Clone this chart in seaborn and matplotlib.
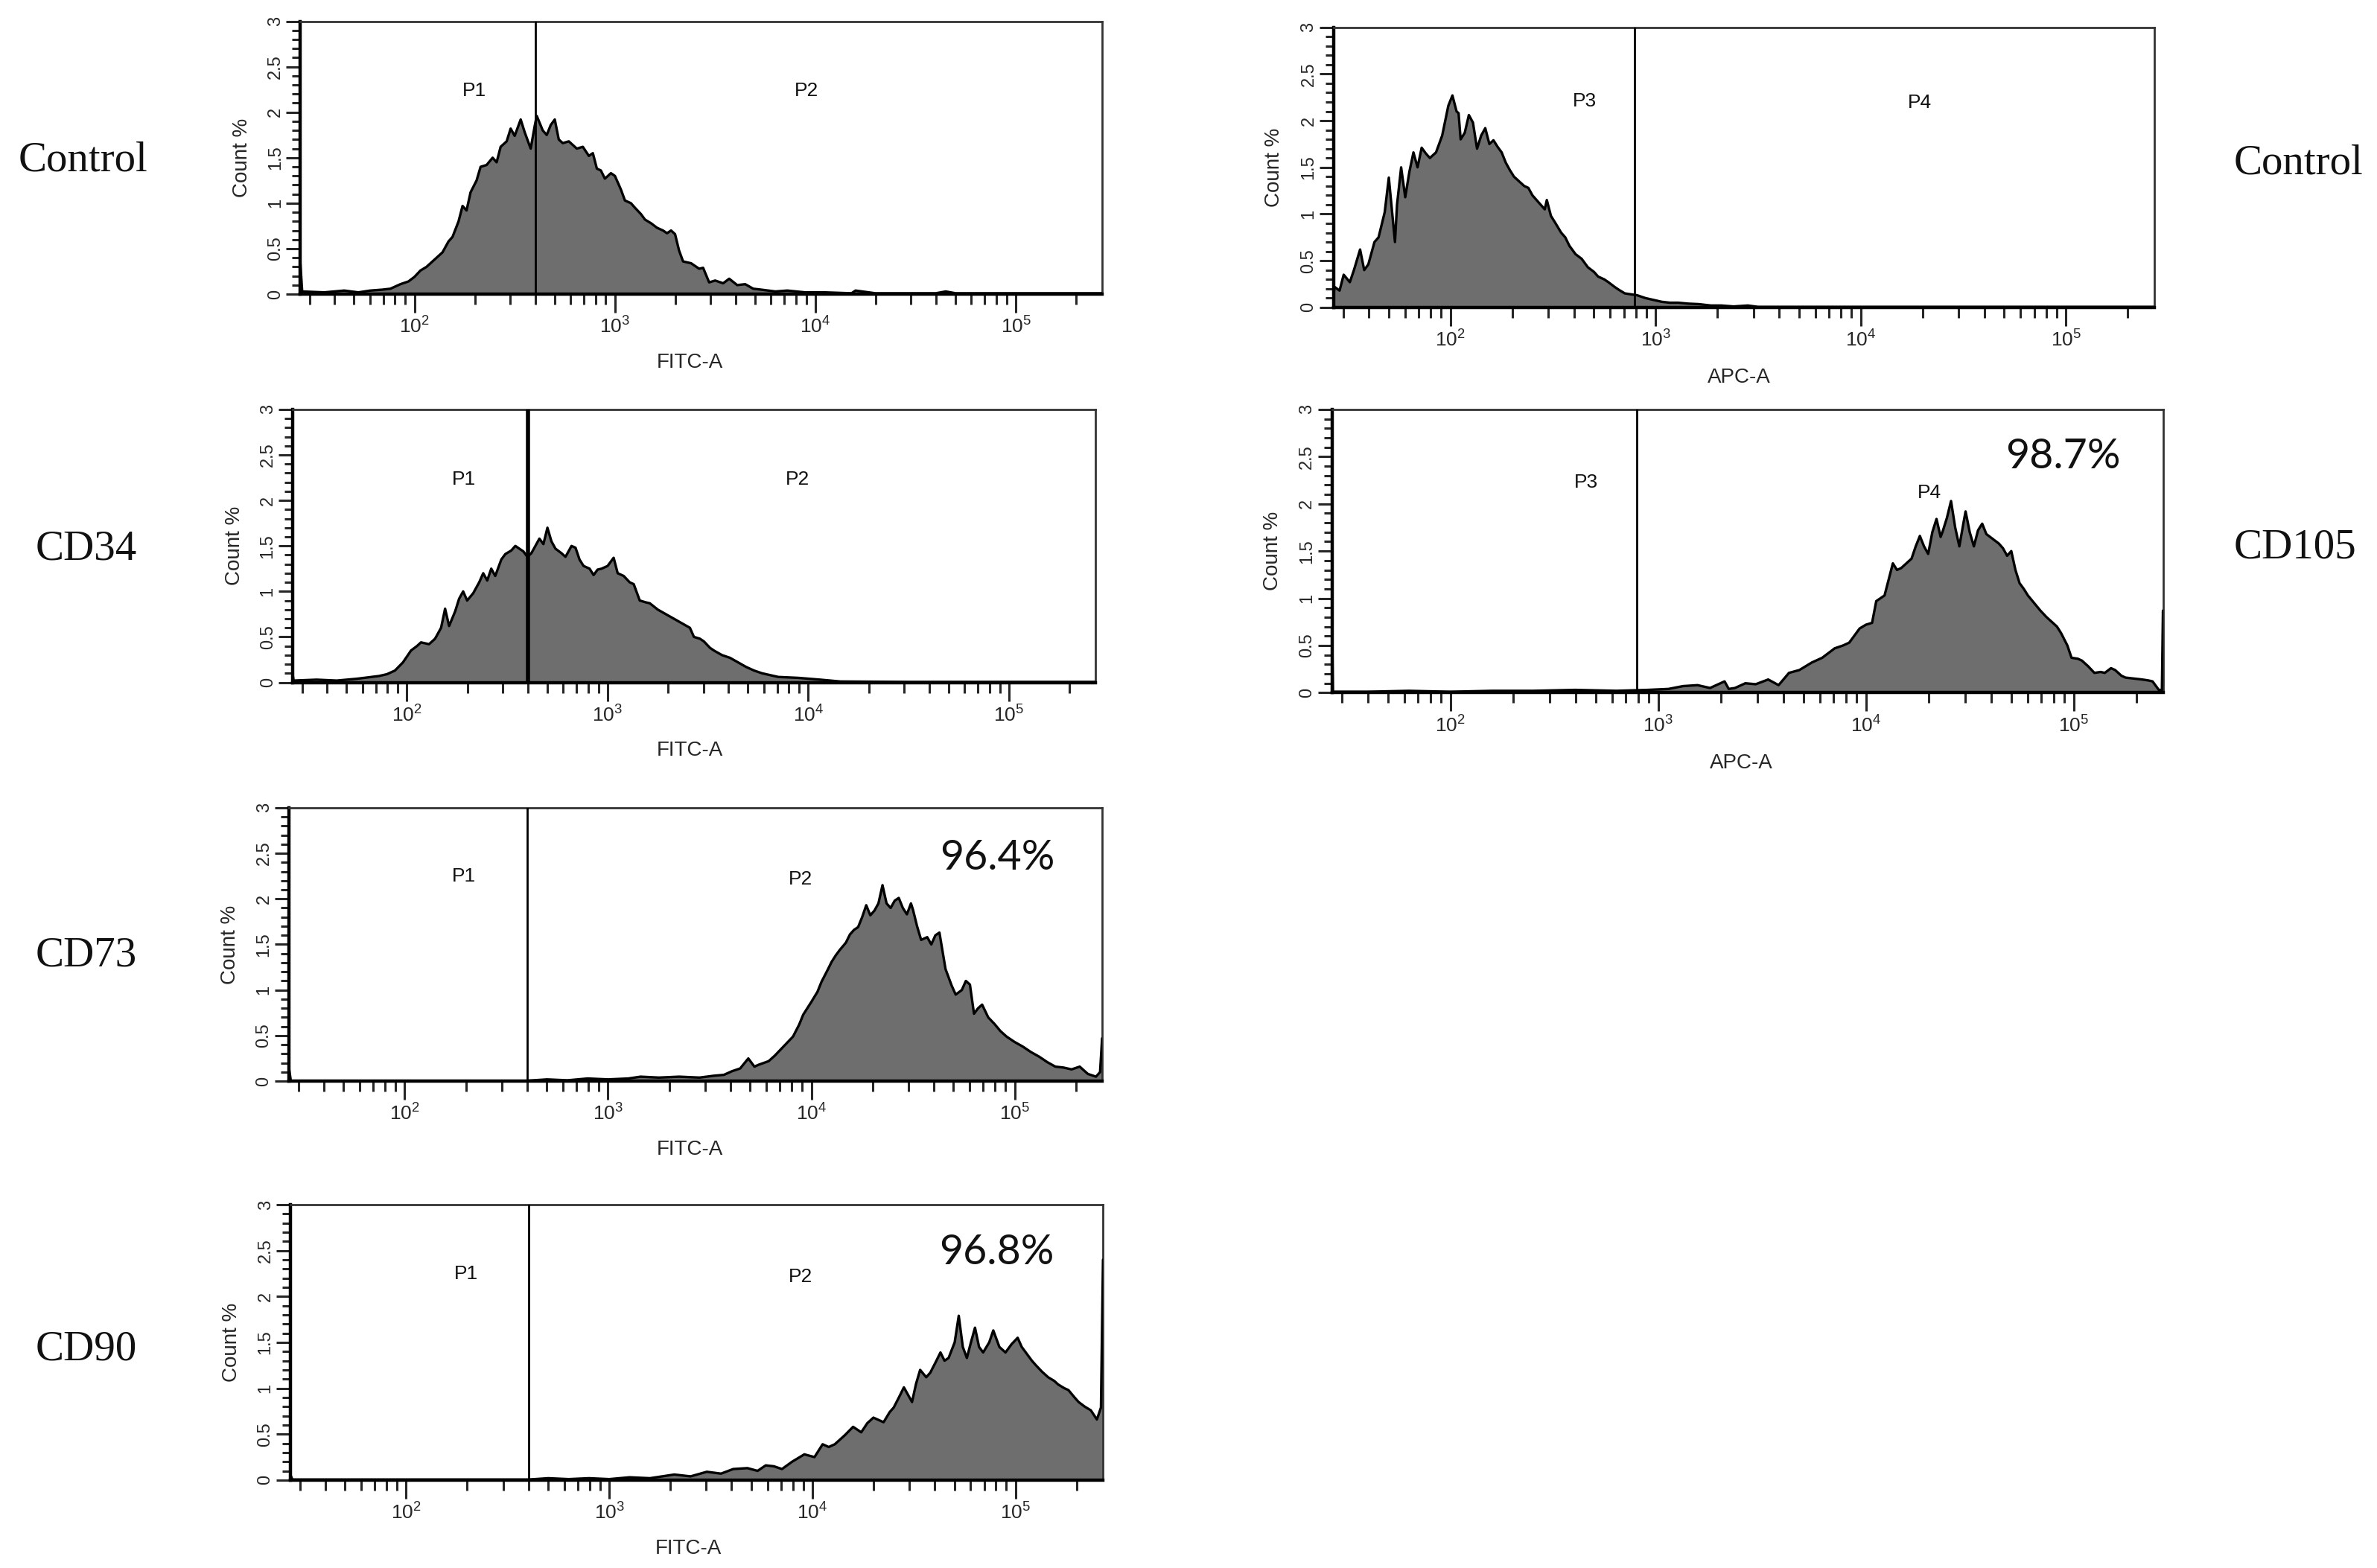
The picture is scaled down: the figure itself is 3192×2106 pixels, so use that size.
import numpy as np
import matplotlib
matplotlib.use("Agg")
import matplotlib.pyplot as plt
from matplotlib.ticker import LogLocator, NullFormatter, MultipleLocator, FuncFormatter
import seaborn as sns

# ---------------- data (log10 of fluorescence, Count %) ----------------
ctrl_fitc_logx = [1.43, 1.44, 1.55, 1.65, 1.72, 1.78, 1.84, 1.88, 1.93, 1.97, 2.00, 2.03, 2.06, 2.10,
                  2.14, 2.17, 2.19, 2.22, 2.24, 2.26, 2.28, 2.31, 2.33, 2.36, 2.39, 2.41, 2.43, 2.46,
                  2.48, 2.50, 2.53, 2.55, 2.58, 2.60, 2.61, 2.64, 2.66, 2.68, 2.70, 2.72, 2.74, 2.77,
                  2.81, 2.84, 2.87, 2.89, 2.91, 2.93, 2.95, 2.98, 3.00, 3.03, 3.05, 3.08, 3.10, 3.13,
                  3.15, 3.18, 3.21, 3.24, 3.26, 3.28, 3.30, 3.32, 3.34, 3.38, 3.42, 3.44, 3.47, 3.50,
                  3.54, 3.57, 3.61, 3.65, 3.69, 3.73, 3.80, 3.86, 3.95, 4.05, 4.18, 4.20, 4.30, 4.60,
                  4.65, 4.70, 5.00, 5.43]
ctrl_fitc_pct = [0.38, 0.03, 0.02, 0.04, 0.02, 0.04, 0.05, 0.06, 0.11, 0.14, 0.19, 0.26, 0.30, 0.38,
                 0.46, 0.58, 0.63, 0.80, 0.97, 0.92, 1.12, 1.25, 1.40, 1.42, 1.50, 1.45, 1.62, 1.68,
                 1.82, 1.74, 1.92, 1.78, 1.60, 1.85, 1.96, 1.80, 1.75, 1.86, 1.92, 1.70, 1.66, 1.68,
                 1.60, 1.62, 1.52, 1.55, 1.38, 1.36, 1.27, 1.33, 1.30, 1.15, 1.03, 1.00, 0.95, 0.88,
                 0.82, 0.78, 0.73, 0.70, 0.67, 0.70, 0.66, 0.48, 0.36, 0.34, 0.28, 0.29, 0.13, 0.15,
                 0.12, 0.17, 0.10, 0.11, 0.06, 0.05, 0.03, 0.04, 0.02, 0.02, 0.01, 0.04, 0.01, 0.01,
                 0.03, 0.01, 0.01, 0.01]

cd34_logx = [1.43, 1.435, 1.55, 1.65, 1.75, 1.86, 1.90, 1.94, 1.98, 2.02, 2.05, 2.07, 2.11, 2.14,
             2.17, 2.19, 2.21, 2.24, 2.26, 2.28, 2.30, 2.33, 2.36, 2.38, 2.40, 2.42, 2.44, 2.47,
             2.49, 2.52, 2.54, 2.56, 2.58, 2.60, 2.62, 2.64, 2.66, 2.68, 2.70, 2.72, 2.74, 2.77,
             2.79, 2.82, 2.84, 2.86, 2.88, 2.91, 2.93, 2.95, 2.97, 3.00, 3.03, 3.05, 3.08, 3.11,
             3.13, 3.16, 3.19, 3.21, 3.25, 3.29, 3.33, 3.37, 3.41, 3.43, 3.46, 3.48, 3.51, 3.53,
             3.57, 3.61, 3.65, 3.69, 3.73, 3.77, 3.81, 3.85, 3.95, 4.06, 4.16, 4.50, 5.43]
cd34_pct = [0.10, 0.02, 0.03, 0.02, 0.04, 0.07, 0.09, 0.13, 0.22, 0.35, 0.40, 0.44, 0.42, 0.48,
            0.60, 0.81, 0.62, 0.78, 0.92, 1.00, 0.90, 0.98, 1.10, 1.20, 1.12, 1.25, 1.17, 1.35,
            1.41, 1.45, 1.50, 1.47, 1.44, 1.38, 1.42, 1.50, 1.58, 1.52, 1.70, 1.55, 1.47, 1.42,
            1.38, 1.50, 1.48, 1.35, 1.28, 1.25, 1.18, 1.24, 1.25, 1.28, 1.37, 1.20, 1.17, 1.10,
            1.08, 0.90, 0.88, 0.87, 0.80, 0.75, 0.70, 0.65, 0.60, 0.50, 0.48, 0.45, 0.38, 0.35,
            0.30, 0.27, 0.22, 0.17, 0.13, 0.10, 0.08, 0.06, 0.05, 0.03, 0.01, 0.005, 0.005]

cd73_logx = [1.43, 1.44, 2.60, 2.70, 2.80, 2.90, 3.00, 3.10, 3.16, 3.25, 3.35, 3.45, 3.52, 3.57,
             3.61, 3.65, 3.69, 3.72, 3.74, 3.79, 3.82, 3.85, 3.88, 3.91, 3.94, 3.96, 4.00, 4.03,
             4.05, 4.08, 4.10, 4.12, 4.14, 4.17, 4.19, 4.21, 4.23, 4.25, 4.27, 4.29, 4.31, 4.33,
             4.35, 4.37, 4.39, 4.41, 4.43, 4.45, 4.47, 4.49, 4.50, 4.52, 4.54, 4.57, 4.59, 4.61,
             4.63, 4.66, 4.69, 4.71, 4.74, 4.76, 4.78, 4.80, 4.82, 4.84, 4.87, 4.90, 4.93, 4.96,
             5.00, 5.04, 5.08, 5.12, 5.16, 5.20, 5.24, 5.28, 5.32, 5.36, 5.40, 5.42, 5.43]
cd73_pct = [0.16, 0.005, 0.005, 0.02, 0.01, 0.03, 0.02, 0.03, 0.05, 0.04, 0.05, 0.04, 0.06, 0.07,
            0.11, 0.14, 0.25, 0.16, 0.18, 0.22, 0.28, 0.35, 0.42, 0.49, 0.62, 0.73, 0.87, 0.98,
            1.09, 1.22, 1.31, 1.38, 1.44, 1.52, 1.61, 1.66, 1.69, 1.80, 1.93, 1.82, 1.87, 1.95,
            2.15, 1.95, 1.90, 1.98, 2.01, 1.90, 1.83, 1.95, 1.88, 1.70, 1.55, 1.58, 1.50, 1.60,
            1.63, 1.23, 1.05, 0.95, 1.00, 1.10, 1.06, 0.74, 0.80, 0.84, 0.70, 0.63, 0.55, 0.49,
            0.43, 0.38, 0.32, 0.27, 0.21, 0.16, 0.15, 0.13, 0.16, 0.08, 0.05, 0.10, 0.47]

cd90_logx = [1.43, 1.44, 2.60, 2.70, 2.80, 2.90, 3.00, 3.10, 3.20, 3.32, 3.40, 3.48, 3.55, 3.61,
             3.68, 3.73, 3.77, 3.81, 3.85, 3.90, 3.93, 3.96, 4.01, 4.05, 4.08, 4.11, 4.14, 4.16,
             4.20, 4.24, 4.27, 4.30, 4.35, 4.38, 4.40, 4.43, 4.45, 4.49, 4.51, 4.53, 4.56, 4.58,
             4.61, 4.63, 4.65, 4.67, 4.70, 4.72, 4.74, 4.76, 4.78, 4.80, 4.82, 4.84, 4.87, 4.89,
             4.92, 4.95, 4.98, 5.01, 5.03, 5.05, 5.08, 5.10, 5.13, 5.16, 5.19, 5.21, 5.24, 5.26,
             5.29, 5.31, 5.34, 5.37, 5.40, 5.42, 5.43]
cd90_pct = [0.06, 0.005, 0.005, 0.02, 0.01, 0.02, 0.01, 0.03, 0.02, 0.06, 0.04, 0.09, 0.07, 0.12,
            0.13, 0.10, 0.16, 0.15, 0.12, 0.20, 0.24, 0.28, 0.25, 0.39, 0.36, 0.39, 0.45, 0.49,
            0.58, 0.52, 0.62, 0.68, 0.63, 0.74, 0.79, 0.92, 1.01, 0.85, 1.05, 1.20, 1.12, 1.17,
            1.30, 1.39, 1.30, 1.33, 1.50, 1.79, 1.45, 1.33, 1.50, 1.66, 1.45, 1.39, 1.50, 1.63,
            1.45, 1.39, 1.48, 1.55, 1.45, 1.39, 1.30, 1.25, 1.18, 1.12, 1.08, 1.04, 1.00, 0.98,
            0.90, 0.85, 0.80, 0.76, 0.66, 0.79, 2.40]

ctrl_apc_logx = [1.43, 1.432, 1.435, 1.46, 1.48, 1.51, 1.53, 1.56, 1.58, 1.60, 1.63, 1.65, 1.68, 1.70,
                 1.73, 1.74, 1.76, 1.78, 1.80, 1.82, 1.84, 1.86, 1.88, 1.90, 1.93, 1.96, 1.99, 2.01,
                 2.03, 2.04, 2.05, 2.07, 2.09, 2.11, 2.13, 2.15, 2.17, 2.19, 2.21, 2.23, 2.25, 2.27,
                 2.29, 2.31, 2.33, 2.36, 2.38, 2.40, 2.42, 2.44, 2.46, 2.47, 2.49, 2.51, 2.54, 2.56,
                 2.58, 2.61, 2.64, 2.67, 2.70, 2.72, 2.75, 2.77, 2.80, 2.82, 2.85, 2.88, 2.91, 2.95,
                 2.99, 3.03, 3.07, 3.11, 3.16, 3.21, 3.27, 3.32, 3.38, 3.45, 3.50, 5.43]
ctrl_apc_pct = [2.00, 0.15, 0.22, 0.18, 0.35, 0.27, 0.40, 0.62, 0.40, 0.46, 0.70, 0.75, 1.02, 1.39,
                0.70, 1.10, 1.50, 1.18, 1.45, 1.66, 1.50, 1.71, 1.65, 1.60, 1.66, 1.84, 2.16, 2.27,
                2.10, 2.08, 1.80, 1.87, 2.06, 1.98, 1.70, 1.84, 1.92, 1.75, 1.79, 1.72, 1.66, 1.55,
                1.47, 1.40, 1.36, 1.30, 1.28, 1.20, 1.15, 1.10, 1.05, 1.15, 0.98, 0.91, 0.80, 0.75,
                0.66, 0.57, 0.52, 0.43, 0.38, 0.33, 0.30, 0.27, 0.22, 0.19, 0.15, 0.14, 0.13, 0.10,
                0.08, 0.06, 0.05, 0.05, 0.04, 0.035, 0.02, 0.02, 0.01, 0.02, 0.005, 0.005]

cd105_logx = [1.43, 1.435, 1.60, 1.80, 2.00, 2.20, 2.40, 2.60, 2.80, 2.95, 3.05, 3.12, 3.19, 3.25,
              3.32, 3.34, 3.37, 3.42, 3.47, 3.53, 3.58, 3.63, 3.68, 3.71, 3.74, 3.79, 3.82, 3.85,
              3.89, 3.92, 3.95, 3.97, 4.00, 4.03, 4.05, 4.07, 4.09, 4.11, 4.13, 4.15, 4.17, 4.20,
              4.22, 4.24, 4.26, 4.28, 4.30, 4.32, 4.34, 4.36, 4.37, 4.39, 4.41, 4.43, 4.45, 4.47,
              4.48, 4.50, 4.52, 4.54, 4.56, 4.58, 4.61, 4.64, 4.66, 4.68, 4.70, 4.72, 4.74, 4.76,
              4.78, 4.81, 4.84, 4.87, 4.89, 4.92, 4.94, 4.97, 4.99, 5.02, 5.04, 5.07, 5.10, 5.13,
              5.15, 5.18, 5.20, 5.23, 5.25, 5.29, 5.33, 5.36, 5.38, 5.41, 5.425, 5.43]
cd105_pct = [0.88, 0.01, 0.01, 0.02, 0.01, 0.02, 0.02, 0.03, 0.02, 0.03, 0.04, 0.07, 0.08, 0.05,
             0.12, 0.04, 0.05, 0.10, 0.09, 0.14, 0.08, 0.21, 0.24, 0.28, 0.32, 0.37, 0.42, 0.47,
             0.50, 0.53, 0.62, 0.68, 0.72, 0.74, 0.97, 1.00, 1.03, 1.20, 1.37, 1.30, 1.32, 1.38,
             1.42, 1.55, 1.66, 1.55, 1.47, 1.70, 1.84, 1.65, 1.71, 1.85, 2.03, 1.75, 1.55, 1.80,
             1.92, 1.70, 1.55, 1.72, 1.79, 1.68, 1.63, 1.58, 1.53, 1.45, 1.50, 1.30, 1.16, 1.10,
             1.03, 0.95, 0.87, 0.80, 0.76, 0.70, 0.63, 0.50, 0.37, 0.36, 0.34, 0.28, 0.21, 0.22,
             0.21, 0.26, 0.24, 0.18, 0.16, 0.15, 0.14, 0.13, 0.12, 0.03, 0.03, 0.87]

fitc_gate = 400
apc_gate = 790
y_ticks = [0, 0.5, 1, 1.5, 2, 2.5, 3]

# ---------------- style ----------------
sns.set_style("ticks")
plt.rcParams['font.family'] = ['Liberation Sans', 'DejaVu Sans']
plt.rcParams['mathtext.default'] = 'regular'

W, H = 1568.0, 1034.0
fig = plt.figure(figsize=(15.96, 10.53), dpi=200)


def box(l, r, t, b):
    return [l / W, 1 - b / H, (r - l) / W, (b - t) / H]


panels = [
    dict(rect=box(198, 727, 14, 194), logx=ctrl_fitc_logx, pct=ctrl_fitc_pct, gate=fitc_gate,
         gl=("P1", 0.217, 0.744), gr=("P2", 0.631, 0.744), xlabel="FITC-A", xl=0.486, pct_txt=None, gw=1.0),
    dict(rect=box(193, 722.5, 270, 450), logx=cd34_logx, pct=cd34_pct, gate=fitc_gate,
         gl=("P1", 0.213, 0.744), gr=("P2", 0.629, 0.744), xlabel="FITC-A", xl=0.495, pct_txt=None, gw=2.0),
    dict(rect=box(190.5, 727, 532.6, 713), logx=cd73_logx, pct=cd73_pct, gate=fitc_gate,
         gl=("P1", 0.215, 0.748), gr=("P2", 0.629, 0.737), xlabel="FITC-A", xl=0.493,
         pct_txt=("96.4%", 0.871, 0.815), gw=1.0),
    dict(rect=box(191.5, 727.6, 794.4, 976), logx=cd90_logx, pct=cd90_pct, gate=fitc_gate,
         gl=("P1", 0.216, 0.749), gr=("P2", 0.628, 0.737), xlabel="FITC-A", xl=0.49,
         pct_txt=("96.8%", 0.869, 0.826), gw=1.0),
    dict(rect=box(879.6, 1421, 18, 202.7), logx=ctrl_apc_logx, pct=ctrl_apc_pct, gate=apc_gate,
         gl=("P3", 0.306, 0.735), gr=("P4", 0.714, 0.73), xlabel="APC-A", xl=0.494, pct_txt=None, gw=1.0),
    dict(rect=box(878.6, 1426.8, 270, 456.8), logx=cd105_logx, pct=cd105_pct, gate=apc_gate,
         gl=("P3", 0.306, 0.743), gr=("P4", 0.719, 0.705), xlabel="APC-A", xl=0.493,
         pct_txt=("98.7%", 0.88, 0.834), gw=1.0),
]

for p in panels:
    ax = fig.add_axes(p['rect'])
    x = 10 ** np.array(p['logx'])
    y = np.array(p['pct'])
    ax.fill_between(x, y, 0, color='#6e6e6e', lw=0, zorder=2)
    sns.lineplot(x=x, y=y, ax=ax, color='black', lw=1.2, sort=False, estimator=None, zorder=3)
    ax.set_xscale('log')
    ax.set_xlim(10 ** 1.43, 10 ** 5.43)
    ax.set_ylim(0, 3)
    ax.axvline(p['gate'], color='black', lw=p['gw'], zorder=4)

    ax.xaxis.set_major_locator(LogLocator(base=10))
    ax.xaxis.set_minor_locator(LogLocator(base=10, subs=np.arange(2, 10)))
    ax.xaxis.set_minor_formatter(NullFormatter())
    ax.set_yticks(y_ticks)
    ax.yaxis.set_minor_locator(MultipleLocator(0.1))
    ax.yaxis.set_major_formatter(FuncFormatter(lambda v, pos: f"{v:g}"))

    ax.tick_params(axis='x', which='major', length=9, width=1.1, direction='out', labelsize=9.5, pad=2)
    ax.tick_params(axis='x', which='minor', length=5, width=1.1, direction='out')
    ax.tick_params(axis='y', which='major', length=7, width=1.1, direction='out', labelsize=8.5,
                   pad=1, labelrotation=90)
    ax.tick_params(axis='y', which='minor', length=4, width=1.1, direction='out')
    for lab in ax.get_yticklabels():
        lab.set_verticalalignment('center')

    for s in ['left', 'bottom']:
        ax.spines[s].set_linewidth(1.6)
        ax.spines[s].set_color('black')
    for s in ['top', 'right']:
        ax.spines[s].set_linewidth(1.0)
        ax.spines[s].set_color('#333333')
        ax.spines[s].set_visible(True)

    ax.set_ylabel("Count %", fontsize=10)
    ax.yaxis.set_label_coords(-0.06, 0.5)
    ax.set_xlabel(p['xlabel'], fontsize=10)
    ax.xaxis.set_label_coords(p['xl'], -0.215)

    for t, tx, ty in (p['gl'], p['gr']):
        ax.text(tx, ty, t, transform=ax.transAxes, ha='center', va='center', fontsize=9.5, color='#111111')
    if p['pct_txt']:
        t, tx, ty = p['pct_txt']
        ax.text(tx, ty, t, transform=ax.transAxes, ha='center', va='center', fontsize=20,
                family=['Lato', 'DejaVu Sans'], color='#111111')

row_labels = [("Control", 55, 106), ("CD34", 57, 362), ("CD73", 57, 630), ("CD90", 57, 890),
              ("Control", 1516, 108), ("CD105", 1514, 361)]
for t, px, py in row_labels:
    fig.text(px / W, 1 - py / H, t, ha='center', va='center', fontsize=20.5,
             family=['Liberation Serif', 'DejaVu Serif'], color='#111111')

fig.savefig("out.png", dpi=200, facecolor='white')
